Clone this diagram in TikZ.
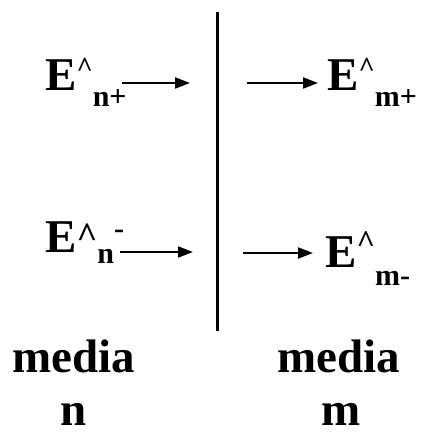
\documentclass[tikz,border=0pt]{standalone}
\usepackage{fontspec}
\setmainfont{Liberation Serif}
\usetikzlibrary{arrows.meta, positioning}
\newcommand{\bigsz}{\fontsize{47}{50}\selectfont}
\newcommand{\hatmk}[2]{\raisebox{#2pt}{\fontsize{#1}{#1}\selectfont\^{}}}
\newcommand{\lowtx}[2]{\raisebox{#1pt}{\fontsize{30}{30}\selectfont #2}}
\tikzset{
  fieldlbl/.style={inner sep=0pt, anchor=base west, font=\bigsz\bfseries},
  medialbl/.style={inner sep=0pt, anchor=base, font=\bigsz\bfseries},
  fieldarrow/.style={-{Triangle[length=15pt, width=11pt]}, line width=2pt, black},
  iface/.style={line width=2.6pt, black}
}
\begin{document}
\begin{tikzpicture}[x=1pt, y=-1pt]
  \useasboundingbox (0,0) rectangle (422,435);
  % interface between the two media
  \coordinate (ifTop) at (217.5,12);
  \coordinate (ifBot) at (217.5,331);
  \draw[iface] (ifTop) -- (ifBot);
  % field labels
  \node[fieldlbl] (Enp) at (45,91) {E\hatmk{28}{14}\lowtx{-16}{n+}};
  \node[fieldlbl] (Enm) at (45,252) {E\hatmk{36}{5}\lowtx{-11}{n}\lowtx{14}{-}};
  \node[fieldlbl] (Emp) at (327,91) {E\hatmk{28}{14}\lowtx{-16}{m+}};
  \node[fieldlbl] (Emm) at (325,267) {E\hatmk{32}{15}\lowtx{-18}{m-}};
  % arrows
  \coordinate (npTail) at (122,83);
  \coordinate (npHead) at (190,83);
  \coordinate (nmTail) at (120,252);
  \coordinate (nmHead) at (193,252);
  \coordinate (mpTail) at (247,83);
  \coordinate (mpHead) at (318,83);
  \coordinate (mmTail) at (243,253);
  \coordinate (mmHead) at (313,253);
  \draw[fieldarrow] (npTail) -- (npHead);
  \draw[fieldarrow] (nmTail) -- (nmHead);
  \draw[fieldarrow] (mpTail) -- (mpHead);
  \draw[fieldarrow] (mmTail) -- (mmHead);
  % media names
  \node[medialbl] (medN) at (74,372) {media};
  \node[medialbl] (nameN) at (74,425) {n};
  \node[medialbl] (medM) at (338.5,372) {media};
  \node[medialbl] (nameM) at (341.5,425) {m};
\end{tikzpicture}
\end{document}
